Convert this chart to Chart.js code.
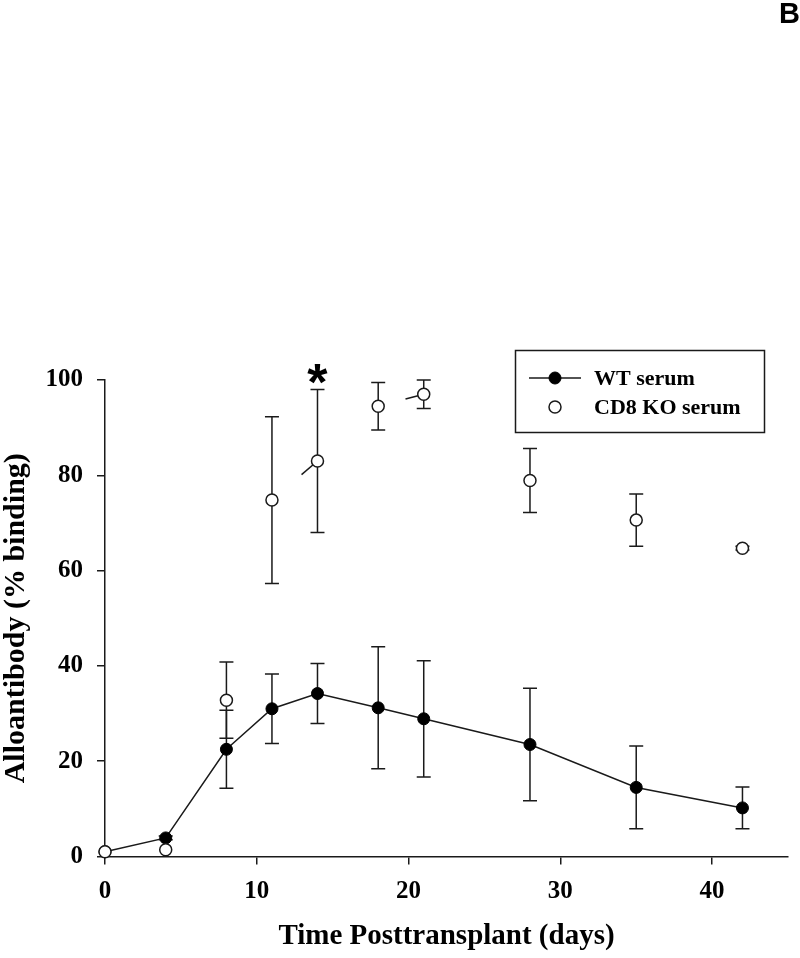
<!DOCTYPE html>
<html><head><meta charset="utf-8">
<script src="https://cdn.jsdelivr.net/npm/chart.js@4"></script>
<style>html,body{margin:0;padding:0;background:#fff}#wrap{width:800px;height:958px;position:relative}</style>
</head><body><div id="wrap"><canvas id="c" width="800" height="958"></canvas></div>
<script>
// ---- data ----
const days = [0, 4, 8, 11, 14, 18, 21, 28, 35, 42];
const wtMean = [1.0, 3.9, 22.5, 31.0, 34.2, 31.2, 28.9, 23.5, 14.5, 10.2];
const wtErr  = [0, 0.4, 8.2, 7.3, 6.3, 12.8, 12.2, 11.8, 8.7, 4.4];
const koMean = [1.0, 1.4, 32.8, 74.8, 83.0, 94.5, 97.0, 78.9, 70.6, 64.7];
const koErr  = [0, 0, 8.0, 17.5, 15.0, 5.0, 3.0, 6.7, 5.5, 0.4];
const xTicks = [0, 10, 20, 30, 40];
const yTicks = [0, 20, 40, 60, 80, 100];
const seriesNames = ['WT serum', 'CD8 KO serum'];
const significantDays = [14];
// partial connector remnants in the KO series: [fromIndex, toIndex, startFraction]
const koLineFragments = [[3, 4, 0.65], [5, 6, 0.6]];
const panelLabel = 'B';
const xTitle = 'Time Posttransplant (days)';
const yTitle = 'Alloantibody (% binding)';

const INK = '#1a1a1a';
const SERIF = '"Liberation Serif", "Times New Roman", serif';

const extras = {
  id: 'extras',
  beforeDatasetsDraw(chart) {
    const {ctx, scales: {x, y}} = chart;
    ctx.save();
    ctx.strokeStyle = INK; ctx.lineWidth = 1.5; ctx.lineCap = 'butt';
    koLineFragments.forEach(([i, j, f]) => {
      const x0 = x.getPixelForValue(days[i]), y0 = y.getPixelForValue(koMean[i]);
      const x1 = x.getPixelForValue(days[j]), y1 = y.getPixelForValue(koMean[j]);
      ctx.beginPath(); ctx.moveTo(x0 + (x1 - x0) * f, y0 + (y1 - y0) * f); ctx.lineTo(x1, y1); ctx.stroke();
    });
    const cap = 7;
    [[wtMean, wtErr], [koMean, koErr]].forEach(([m, e]) => {
      days.forEach((d, k) => {
        if (!e[k]) return;
        const px = x.getPixelForValue(d);
        const top = y.getPixelForValue(m[k] + e[k]), bot = y.getPixelForValue(m[k] - e[k]);
        ctx.beginPath();
        ctx.moveTo(px, top); ctx.lineTo(px, bot);
        ctx.moveTo(px - cap, top); ctx.lineTo(px + cap, top);
        ctx.moveTo(px - cap, bot); ctx.lineTo(px + cap, bot);
        ctx.stroke();
      });
    });
    ctx.restore();
  },
  afterDraw(chart) {
    const {ctx, scales: {x, y}} = chart;
    ctx.save();
    // significance asterisk
    ctx.fillStyle = '#000';
    ctx.font = 'bold 52px "Liberation Sans", Arial, sans-serif';
    ctx.textAlign = 'center'; ctx.textBaseline = 'alphabetic';
    significantDays.forEach(d => {
      const k = days.indexOf(d);
      const px = x.getPixelForValue(d);
      const topPx = y.getPixelForValue(koMean[k] + koErr[k]);
      const m = ctx.measureText('*');
      const cy = topPx - 16;
      const base = cy + (m.actualBoundingBoxAscent - m.actualBoundingBoxDescent) / 2;
      ctx.fillText('*', px, base);
    });
    // legend
    const ds = chart.data.datasets;
    ctx.strokeStyle = INK; ctx.lineWidth = 1.5;
    ctx.strokeRect(515.5, 350.5, 249, 82);
    const rows = [ds[1], ds[0]];
    const rowY = [378, 407];
    ctx.font = 'bold 22px ' + SERIF;
    ctx.textAlign = 'left'; ctx.textBaseline = 'middle';
    rows.forEach((d, i) => {
      const yy = rowY[i];
      if (d.showLine !== false) {
        ctx.beginPath(); ctx.moveTo(529, yy); ctx.lineTo(581, yy); ctx.stroke();
      }
      ctx.beginPath(); ctx.arc(555, yy, 6, 0, Math.PI * 2);
      ctx.fillStyle = d.pointBackgroundColor; ctx.fill();
      ctx.strokeStyle = d.pointBorderColor; ctx.lineWidth = d.pointBorderWidth; ctx.stroke();
      ctx.strokeStyle = INK; ctx.lineWidth = 1.5;
      ctx.fillStyle = '#000';
      ctx.fillText(d.label, 594, yy + 1);
    });
    // panel label
    ctx.font = 'bold 29px "Liberation Sans", Arial, sans-serif';
    ctx.textAlign = 'left'; ctx.textBaseline = 'alphabetic';
    ctx.fillText(panelLabel, 779, 23);
    ctx.restore();
  }
};

new Chart(document.getElementById('c'), {
  type: 'line',
  data: {
    datasets: [
      {
        label: seriesNames[1],
        data: days.map((d, i) => ({x: d, y: koMean[i]})),
        showLine: false,
        pointRadius: 6, pointHoverRadius: 6,
        pointBackgroundColor: '#ffffff', pointBorderColor: INK, pointBorderWidth: 1.5,
        borderColor: INK, clip: false, order: 0
      },
      {
        label: seriesNames[0],
        data: days.map((d, i) => ({x: d, y: wtMean[i]})),
        borderColor: INK, borderWidth: 1.5, tension: 0,
        pointRadius: 6, pointHoverRadius: 6,
        pointBackgroundColor: '#000000', pointBorderColor: '#000000', pointBorderWidth: 1,
        clip: false, order: 1
      }
    ]
  },
  options: {
    responsive: false, animation: false, devicePixelRatio: 1,
    layout: {padding: {top: 380, right: 12, bottom: 0, left: 0}},
    plugins: {legend: {display: false}, tooltip: {enabled: false}},
    events: [],
    scales: {
      x: {
        type: 'linear', min: 0, max: 45,
        afterBuildTicks: s => { s.ticks = xTicks.map(v => ({value: v})); },
        afterFit: s => { s.height = 101.5; },
        grid: {drawOnChartArea: false, drawTicks: true, tickLength: 8, color: INK, lineWidth: 1.5},
        border: {display: true, color: INK, width: 1.5},
        ticks: {color: '#000', padding: 12, maxRotation: 0, font: {family: SERIF, size: 25, weight: 'bold'}},
        title: {display: true, text: xTitle, color: '#000', font: {family: SERIF, size: 29, weight: 'bold', lineHeight: 1.2}, padding: {top: 0, bottom: 4}}
      },
      y: {
        type: 'linear', min: 0, max: 100,
        afterBuildTicks: s => { s.ticks = yTicks.map(v => ({value: v})); },
        afterFit: s => { s.width = 105; },
        grid: {drawOnChartArea: false, drawTicks: true, tickLength: 8, color: INK, lineWidth: 1.5},
        border: {display: true, color: INK, width: 1.5},
        ticks: {color: '#000', padding: 14, font: {family: SERIF, size: 25, weight: 'bold'}},
        title: {display: true, text: yTitle, color: '#000', font: {family: SERIF, size: 30, weight: 'bold', lineHeight: 1.0}, padding: {top: 1, bottom: 0}}
      }
    }
  },
  plugins: [extras]
});
</script></body></html>
